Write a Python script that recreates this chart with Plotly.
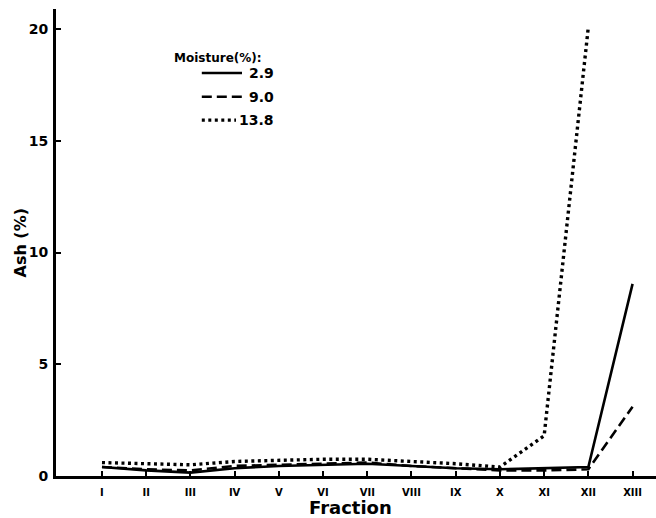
import plotly.graph_objects as go

fractions = ["I", "II", "III", "IV", "V", "VI", "VII", "VIII", "IX", "X", "XI", "XII", "XIII"]
ash_2_9 = [0.40, 0.25, 0.15, 0.35, 0.45, 0.50, 0.55, 0.45, 0.35, 0.30, 0.35, 0.40, 8.6]
ash_9_0 = [0.40, 0.30, 0.25, 0.45, 0.50, 0.55, 0.60, 0.45, 0.35, 0.25, 0.25, 0.30, 3.1]
ash_13_8 = [0.60, 0.55, 0.50, 0.65, 0.70, 0.75, 0.75, 0.65, 0.55, 0.40, 1.8, 20.1, None]
series_names = ["2.9", "9.0", "13.8"]
y_ticks = [0, 5, 10, 15, 20]

FONT = "DejaVu Sans"
xs = list(range(len(fractions)))

fig = go.Figure()
styles = [("solid", 2.6), ("10px,5px", 2.6), ("3px,3.5px", 3.4)]
for vals, name, (dash, w) in zip([ash_2_9, ash_9_0, ash_13_8], series_names, styles):
    fig.add_trace(go.Scatter(x=xs, y=vals, mode="lines", name=name,
                             line=dict(color="black", width=w, dash=dash),
                             showlegend=False))

# manual legend
fig.add_annotation(xref="paper", yref="paper", x=0.193, y=0.895, xanchor="left", yanchor="middle",
                   text="<b>Moisture(%):</b>", showarrow=False,
                   font=dict(family=FONT, size=12, color="black"))
leg_y = [0.863, 0.812, 0.762]
leg_x1 = [0.31, 0.31, 0.30]
for (dash, w), name, ly, x1 in zip(styles, series_names, leg_y, leg_x1):
    fig.add_shape(type="line", xref="paper", yref="paper", x0=0.243, x1=x1, y0=ly, y1=ly,
                  line=dict(color="black", width=w, dash=dash))
    fig.add_annotation(xref="paper", yref="paper", x=0.367, y=ly, xanchor="right", yanchor="middle",
                       text="<b>%s</b>" % name, showarrow=False,
                       font=dict(family=FONT, size=14, color="black"))

# axis titles
fig.add_annotation(xref="paper", yref="paper", x=0.49, y=-0.068, xanchor="center", yanchor="middle",
                   text="<b>Fraction</b>", showarrow=False,
                   font=dict(family=FONT, size=18, color="black"))
fig.add_annotation(xref="paper", yref="paper", x=-0.06, y=0.5, xanchor="center", yanchor="middle",
                   text="<b>Ash (%)</b>", textangle=-90, showarrow=False,
                   font=dict(family=FONT, size=16, color="black"))

fig.update_layout(
    width=656, height=518,
    margin=dict(l=56, r=0, t=9, b=42),
    paper_bgcolor="white", plot_bgcolor="white",
    font=dict(family=FONT, color="black"),
    showlegend=False,
)
fig.update_xaxes(
    range=[-1.04, 12.53], automargin=False,
    tickmode="array", tickvals=xs, ticktext=["<b>%s</b>" % f for f in fractions],
    ticks="inside", ticklen=5, tickwidth=1.5, tickcolor="black",
    showline=True, linecolor="black", linewidth=3,
    showgrid=False, zeroline=False,
    tickfont=dict(family=FONT, size=10), ticklabelstandoff=5,
)
fig.update_yaxes(
    range=[0, 20.9], automargin=False,
    tickmode="array", tickvals=y_ticks, ticktext=["<b>%d</b>" % t for t in y_ticks],
    ticks="inside", ticklen=5, tickwidth=1.5, tickcolor="black",
    showline=True, linecolor="black", linewidth=3,
    showgrid=False, zeroline=False,
    tickfont=dict(family=FONT, size=14), ticklabelstandoff=2,
)

fig.write_html("out.html", config={"displayModeBar": False},
               post_script="document.body.style.margin='0';document.body.style.overflow='hidden';")
